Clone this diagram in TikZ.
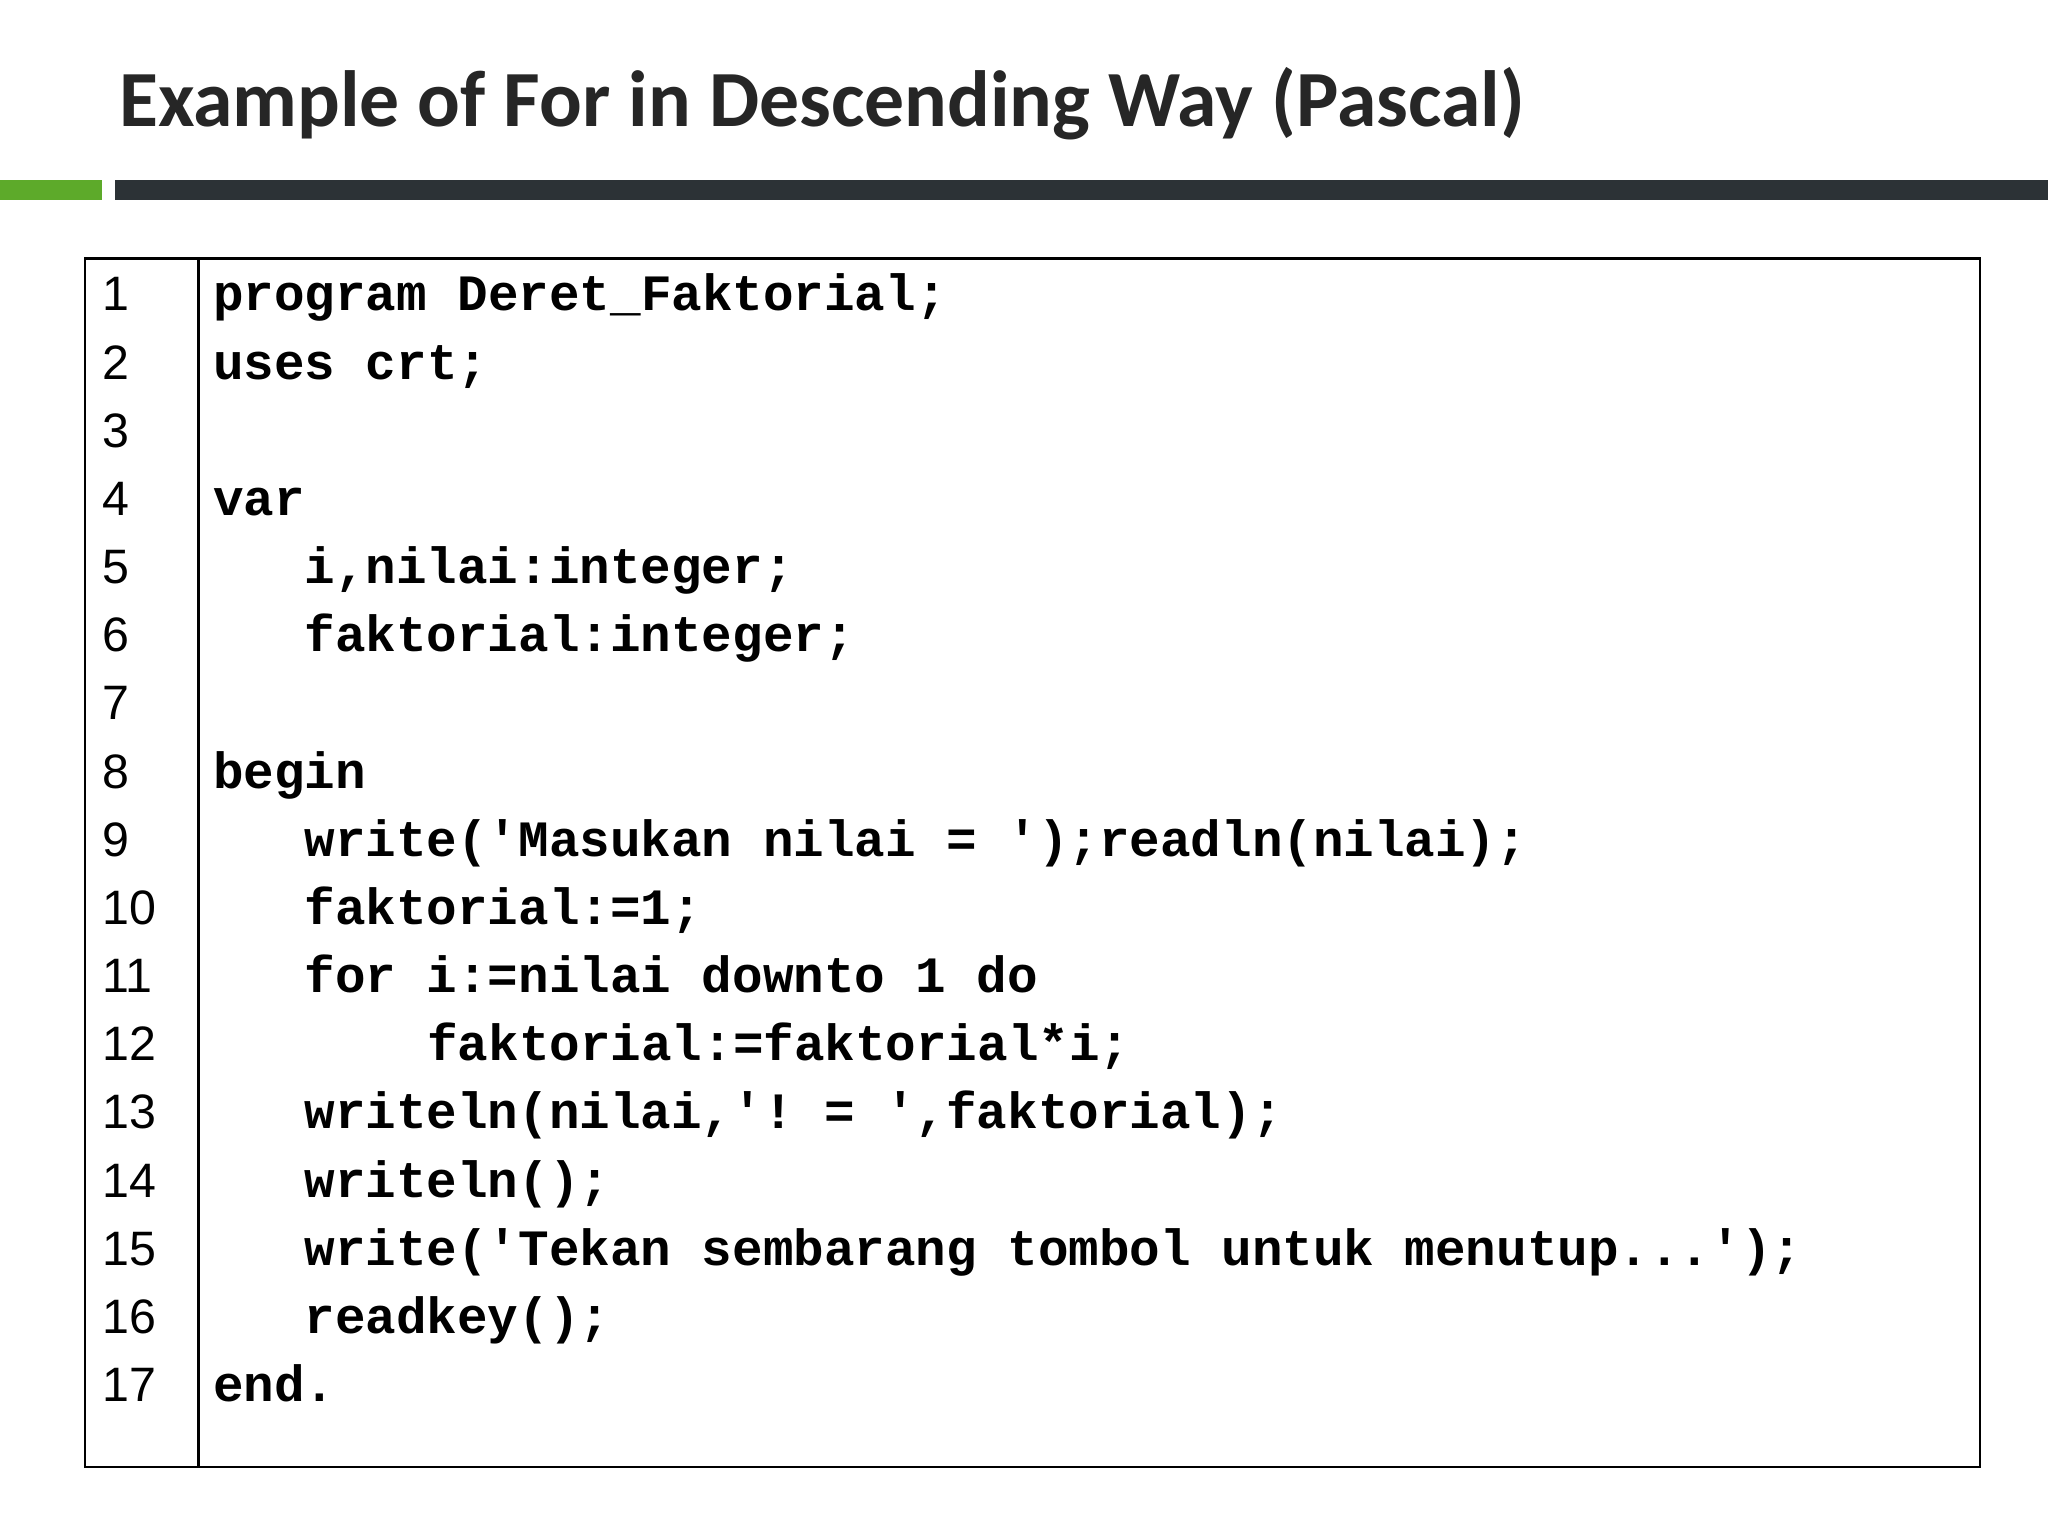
\documentclass[tikz,border=0pt]{standalone}
\usepackage{fontspec}
\setmainfont{Carlito}
\setsansfont{Liberation Sans}
\setmonofont{Liberation Mono}
\definecolor{gbar}{HTML}{5DAA2A}
\definecolor{dbar}{HTML}{2C3236}
\begin{document}
\begin{tikzpicture}[x=1pt,y=-1pt,
  code/.style={anchor=base west,inner sep=0,font=\fontsize{39}{39}\ttfamily\bfseries},
  num/.style={anchor=base west,inner sep=0,font=\fontsize{37}{37}\sffamily}]
\useasboundingbox (0,0) rectangle (1568,1176);
\fill[white] (0,0) rectangle (1568,1176);
\node[anchor=base west,inner sep=0,font=\fontsize{61}{61}\selectfont\bfseries,text=black!85] (title) at (91,97) {Example of For in Descending Way (Pascal)};
\fill[gbar] (0,138) rectangle (78,153);
\fill[dbar] (88,138) rectangle (1568,153);
\draw[line width=1.8] (65,198) rectangle (1516,1123);
\draw[line width=1.8] (152,198) -- (152,1123);
\foreach \i in {1,...,17}{\node[num] (n\i) at (78,{238+52.19*(\i-1)}) {\i};}
\def\Y#1{{238+52.19*(#1-1)}}
\node[code] (c1) at (163,\Y1) {program Deret\_Faktorial;};
\node[code] (c2) at (163,\Y2) {uses crt;};
\node[code] (c4) at (163,\Y4) {var};
\node[code] (c5) at (233,\Y5) {i,nilai:integer;};
\node[code] (c6) at (233,\Y6) {faktorial:integer;};
\node[code] (c8) at (163,\Y8) {begin};
\node[code] (c9) at (233,\Y9) {write('Masukan nilai = ');readln(nilai);};
\node[code] (c10) at (233,\Y{10}) {faktorial:=1;};
\node[code] (c11) at (233,\Y{11}) {for i:=nilai downto 1 do};
\node[code] (c12) at (327,\Y{12}) {faktorial:=faktorial*i;};
\node[code] (c13) at (233,\Y{13}) {writeln(nilai,'! = ',faktorial);};
\node[code] (c14) at (233,\Y{14}) {writeln();};
\node[code] (c15) at (233,\Y{15}) {write('Tekan sembarang tombol untuk menutup...');};
\node[code] (c16) at (233,\Y{16}) {readkey();};
\node[code] (c17) at (163,\Y{17}) {end.};
\end{tikzpicture}
\end{document}
